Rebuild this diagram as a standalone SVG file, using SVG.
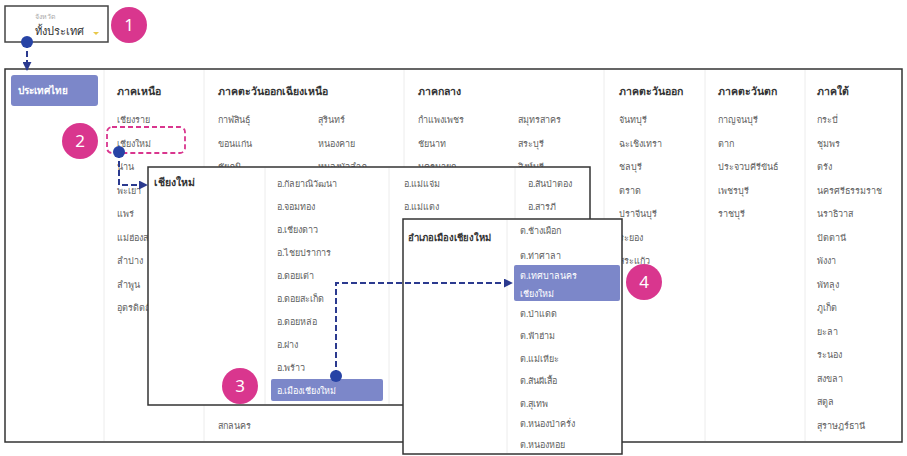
<svg xmlns="http://www.w3.org/2000/svg" width="907" height="456" viewBox="0 0 907 456">
<defs>
<style>
text{font-family:"Noto Sans","DejaVu Sans",sans-serif;font-size:9px;fill:#5f5f5f}
.h{font-weight:bold;fill:#333;font-size:10.5px}
.w{fill:#fff;font-weight:bold;font-size:10px}
.wn{fill:#fff}
.num{fill:#fff;font-size:17px;text-anchor:middle}
.panel{fill:#fff;stroke:#333;stroke-width:1.5}
.div{stroke:#ececec;stroke-width:1}
.hl{fill:#7c87c9}
.badge{fill:#d9368e}
.dot{fill:#2743a5}
.conn{fill:none;stroke:#2b3a8f;stroke-width:2;stroke-dasharray:6 3}
</style>
<marker id="ah" viewBox="0 0 10 10" refX="9" refY="5" markerWidth="4.5" markerHeight="4.5" orient="auto" markerUnits="strokeWidth">
<path d="M0,0 L10,5 L0,10 z" fill="#2b3a8f"/>
</marker>
</defs>
<rect width="907" height="456" fill="#fff"/>

<g id="select">
<rect x="5" y="6" width="103" height="36" fill="#fff" stroke="#444" stroke-width="1.5"/>
<text x="35" y="19" style="font-size:7px;fill:#aaa">จังหวัด</text>
<text x="35" y="35" style="font-size:11px;fill:#333">ทั้งประเทศ</text>
<path d="M93,32 L99,32 L96,35 z" fill="#e8c84a"/>
</g>
<g id="badge1"><circle class="badge" cx="129" cy="25" r="18"/><text class="num" x="129" y="31">1</text></g>

<g id="mainpanel">
<rect class="panel" x="5" y="69" width="897" height="373"/>
<line class="div" x1="104" y1="70" x2="104" y2="441"/>
<line class="div" x1="204" y1="70" x2="204" y2="441"/>
<line class="div" x1="404" y1="70" x2="404" y2="441"/>
<line class="div" x1="604" y1="70" x2="604" y2="441"/>
<line class="div" x1="705" y1="70" x2="705" y2="441"/>
<line class="div" x1="805" y1="70" x2="805" y2="441"/>
<rect class="hl" x="11" y="75" width="87" height="31" rx="3"/>
<text class="w" x="18" y="94">ประเทศไทย</text>
</g>

<g id="col-north">
<text class="h" x="117" y="95">ภาคเหนือ</text>
<text x="117" y="123">เชียงราย</text>
<text x="117" y="147">เชียงใหม่</text>
<text x="117" y="170">น่าน</text>
<text x="117" y="194">พะเยา</text>
<text x="117" y="217">แพร่</text>
<text x="117" y="241">แม่ฮ่องสอน</text>
<text x="117" y="264">ลำปาง</text>
<text x="117" y="288">ลำพูน</text>
<text x="117" y="311">อุตรดิตถ์</text>
</g>
<g id="col-northeast">
<text class="h" x="218" y="95">ภาคตะวันออกเฉียงเหนือ</text>
<text x="218" y="123">กาฬสินธุ์</text>
<text x="218" y="147">ขอนแก่น</text>
<text x="218" y="170">ชัยภูมิ</text>
<text x="318" y="123">สุรินทร์</text>
<text x="318" y="147">หนองคาย</text>
<text x="318" y="170">หนองบัวลำภู</text>
<text x="218" y="429">สกลนคร</text>
</g>
<g id="col-central">
<text class="h" x="418" y="95">ภาคกลาง</text>
<text x="418" y="123">กำแพงเพชร</text>
<text x="418" y="147">ชัยนาท</text>
<text x="418" y="170">นครนายก</text>
<text x="518" y="123">สมุทรสาคร</text>
<text x="518" y="147">สระบุรี</text>
<text x="518" y="170">สิงห์บุรี</text>
</g>
<g id="col-east">
<text class="h" x="619" y="95">ภาคตะวันออก</text>
<text x="619" y="123">จันทบุรี</text>
<text x="619" y="147">ฉะเชิงเทรา</text>
<text x="619" y="170">ชลบุรี</text>
<text x="619" y="194">ตราด</text>
<text x="619" y="217">ปราจีนบุรี</text>
<text x="619" y="241">ระยอง</text>
<text x="619" y="264">สระแก้ว</text>
</g>
<g id="col-west">
<text class="h" x="718" y="95">ภาคตะวันตก</text>
<text x="718" y="123">กาญจนบุรี</text>
<text x="718" y="147">ตาก</text>
<text x="718" y="170">ประจวบคีรีขันธ์</text>
<text x="718" y="194">เพชรบุรี</text>
<text x="718" y="217">ราชบุรี</text>
</g>
<g id="col-south">
<text class="h" x="817" y="95">ภาคใต้</text>
<text x="817" y="123">กระบี่</text>
<text x="817" y="147">ชุมพร</text>
<text x="817" y="170">ตรัง</text>
<text x="817" y="194">นครศรีธรรมราช</text>
<text x="817" y="217">นราธิวาส</text>
<text x="817" y="241">ปัตตานี</text>
<text x="817" y="264">พังงา</text>
<text x="817" y="288">พัทลุง</text>
<text x="817" y="311">ภูเก็ต</text>
<text x="817" y="335">ยะลา</text>
<text x="817" y="358">ระนอง</text>
<text x="817" y="382">สงขลา</text>
<text x="817" y="405">สตูล</text>
<text x="817" y="429">สุราษฎร์ธานี</text>
</g>

<g id="chiangmai-highlight">
<rect x="107" y="127" width="78" height="26" rx="5" fill="none" stroke="#d9368e" stroke-width="1.8" stroke-dasharray="5 3"/>
</g>
<g id="badge2"><circle class="badge" cx="80" cy="141" r="18"/><text class="num" x="80" y="147">2</text></g>

<g id="popup-districts">
<rect class="panel" x="148" y="167" width="442" height="238"/>
<line class="div" x1="265" y1="168" x2="265" y2="404"/>
<line class="div" x1="389" y1="168" x2="389" y2="404"/>
<line class="div" x1="515" y1="168" x2="515" y2="404"/>
<text class="h" x="154" y="186">เชียงใหม่</text>
<text x="277" y="187">อ.กัลยาณิวัฒนา</text>
<text x="277" y="210">อ.จอมทอง</text>
<text x="277" y="233">อ.เชียงดาว</text>
<text x="277" y="256">อ.ไชยปราการ</text>
<text x="277" y="279">อ.ดอยเต่า</text>
<text x="277" y="302">อ.ดอยสะเก็ด</text>
<text x="277" y="325">อ.ดอยหล่อ</text>
<text x="277" y="348">อ.ฝาง</text>
<text x="277" y="371">อ.พร้าว</text>
<rect class="hl" x="271" y="379" width="112" height="22" rx="2"/>
<text class="wn" x="277" y="394">อ.เมืองเชียงใหม่</text>
<text x="404" y="187">อ.แม่แจ่ม</text>
<text x="404" y="210">อ.แม่แตง</text>
<text x="528" y="187">อ.สันป่าตอง</text>
<text x="528" y="210">อ.สารภี</text>
</g>
<g id="badge3"><circle class="badge" cx="240" cy="386" r="18"/><text class="num" x="240" y="392">3</text></g>

<g id="popup-subdistricts">
<rect class="panel" x="403" y="219" width="219" height="235"/>
<line class="div" x1="507" y1="220" x2="507" y2="453"/>
<text class="h" x="408" y="241" style="font-size:9.5px">อำเภอเมืองเชียงใหม่</text>
<text x="520" y="234">ต.ช้างเผือก</text>
<text x="520" y="259">ต.ท่าศาลา</text>
<rect class="hl" x="514" y="265" width="106" height="36" rx="2"/>
<text class="wn" x="520" y="279">ต.เทศบาลนคร</text>
<text class="wn" x="520" y="297">เชียงใหม่</text>
<text x="520" y="317">ต.ป่าแดด</text>
<text x="520" y="339">ต.ฟ้าฮ่าม</text>
<text x="520" y="362">ต.แม่เหียะ</text>
<text x="520" y="384">ต.สันผีเสื้อ</text>
<text x="520" y="407">ต.สุเทพ</text>
<text x="520" y="427">ต.หนองป่าครั่ง</text>
<text x="520" y="448">ต.หนองหอย</text>
</g>
<g id="badge4"><circle class="badge" cx="644" cy="282" r="18"/><text class="num" x="644" y="288">4</text></g>

<g id="connectors">
<path class="conn" d="M27,42 L27,70" marker-end="url(#ah)"/>
<path class="conn" d="M119,152 L119,185 L147,185" marker-end="url(#ah)"/>
<path class="conn" d="M336,376 L336,283 L512,283" marker-end="url(#ah)"/>
<circle class="dot" cx="27" cy="42" r="6"/>
<circle class="dot" cx="119" cy="152" r="6"/>
<circle class="dot" cx="336" cy="376" r="6"/>
</g>
</svg>
